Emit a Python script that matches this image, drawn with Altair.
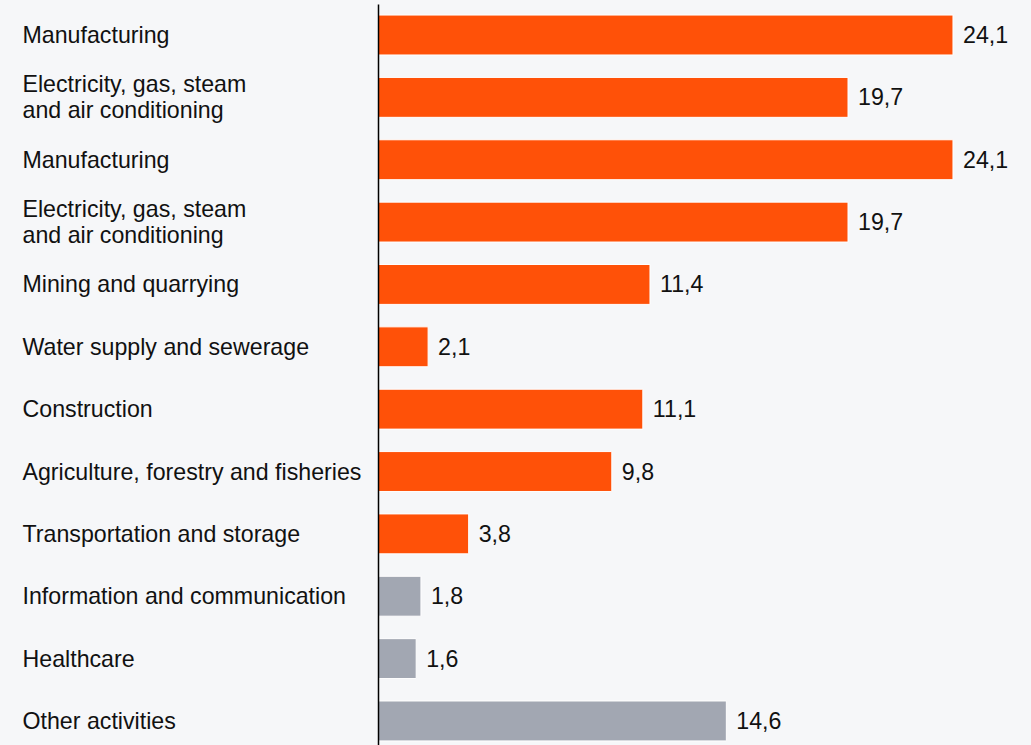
import altair as alt
import pandas as pd

categories = [
    "Manufacturing",
    "Electricity, gas, steam|and air conditioning",
    "Manufacturing",
    "Electricity, gas, steam|and air conditioning",
    "Mining and quarrying",
    "Water supply and sewerage",
    "Construction",
    "Agriculture, forestry and fisheries",
    "Transportation and storage",
    "Information and communication",
    "Healthcare",
    "Other activities",
]
values = [24.1, 19.7, 24.1, 19.7, 11.4, 2.1, 11.1, 9.8, 3.8, 1.8, 1.6, 14.6]
groups = ["main", "main", "main", "main", "main", "main", "main", "main", "main",
          "other", "other", "other"]

df = pd.DataFrame({
    "key": [f"{i:02d}|{c}" for i, c in enumerate(categories)],
    "value": values,
    "group": groups,
})

FONT = "Liberation Sans"
FS = 23.2

y = alt.Y(
    "key:O",
    sort="ascending",
    title=None,
    scale=alt.Scale(paddingInner=0.36, paddingOuter=0.1215, align=0.73),
    axis=alt.Axis(
        labelExpr="slice(split(datum.value, '|'), 1)",
        labelAlign="left",
        labelBaseline="middle",
        labelPadding=356,
        labelOffset={"condition": {"test": "length(split(datum.value, '|')) > 2", "value": -12.5}, "value": 1},
        labelFont=FONT,
        labelFontSize=FS,
        labelColor="#111111",
        labelLineHeight=26.3,
        labelLimit=400,
        ticks=False,
        tickSize=0,
        domain=True,
        domainColor="#000000",
        domainWidth=1.5,
        grid=False,
        zindex=1,
    ),
)
x = alt.X("value:Q", axis=None, scale=alt.Scale(domain=[0, 27.37], nice=False, zero=True))

base = alt.Chart(df).encode(y=y, x=x)

bars = base.mark_bar(stroke="white", strokeWidth=1).encode(
    color=alt.Color(
        "group:N",
        scale=alt.Scale(domain=["main", "other"], range=["#ff5108", "#a2a7b2"]),
        legend=None,
    )
)

labels = base.transform_calculate(
    lbl="replace(format(datum.value, '.1f'), '.', ',')"
).mark_text(
    align="left", baseline="middle", dx=10, dy=1, font=FONT, fontSize=FS, color="#111111"
).encode(text="lbl:N")

chart = (
    alt.layer(bars, labels)
    .properties(
        width=653,
        height=741,
        padding={"left": 378, "top": 4, "right": 0, "bottom": 0},
        autosize=alt.AutoSizeParams(type="none"),
        background="#f6f7f9",
    )
    .configure_view(stroke=None)
)

chart.save("out.html", embed_options={"renderer": "svg", "actions": False})
